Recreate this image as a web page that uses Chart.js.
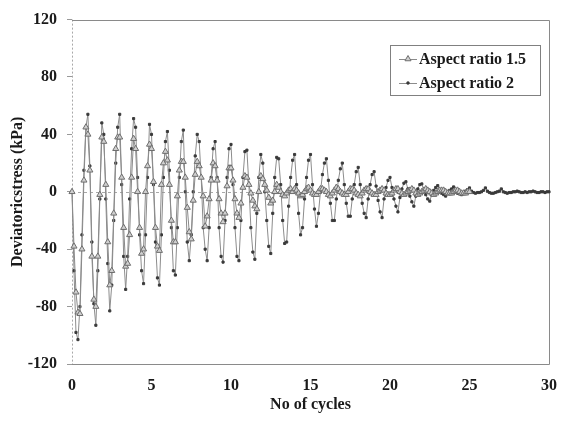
<!DOCTYPE html>
<html>
<head>
<meta charset="utf-8">
<script src="https://cdn.jsdelivr.net/npm/chart.js@4/dist/chart.umd.min.js"></script>
<style>
  html, body { margin: 0; padding: 0; background: #ffffff; }
  #wrap { width: 569px; height: 424px; }
</style>
</head>
<body>
<div id="wrap"><canvas id="c" width="569" height="424"></canvas></div>
<script>
// Readings are taken every 1/8 of a loading cycle.
const samplesPerCycle = 8;

const seriesNames = ['Aspect ratio 1.5', 'Aspect ratio 2'];

// Deviatoric stress (kPa), aspect ratio 1.5 — one row per cycle, cycles 0..24, then the end value
const stressAR15 = [
  0, -38, -70, -84, -85, -40, 8, 45,
  40, 15, -45, -75, -80, -45, -2, 38,
  35, 5, -35, -65, -55, -15, 30, 38,
  38, 10, -25, -52, -50, -30, 10, 37,
  30, 0, -25, -43, -40, 0, 18, 33,
  30, 7, -25, -38, -41, 5, 20, 28,
  22, 5, -20, -35, -35, -3, 15, 21,
  21, 10, -11, -28, -33, -6, 12, 21,
  18, 10, -3, -24, -17, -5, 8, 20,
  18, 8, -5, -15, -21, -15, 4, 16.5,
  16.5, 8, -5, -15, -18, -8, 3, 11,
  10, 5, -1, -6, -10, -12, 0, 11,
  9, 5, 1, -4, -8, -6, 0, 5,
  3, 0, -2, -3, -1, 1, 2, 0,
  2, 1, -1, -3, -2, 0, 2, 3,
  1, -1, -2, -2, 0, 2, 2, 1,
  0, -2, -3, -1, 1, 3, 2, 0,
  -1, -2, -2, 0, 2, 2, 1, -1,
  -2, -3, -1, 1, 2, 2, 0, -1,
  -2, -2, 0, 1, 2, 1, -1, -2,
  -2, -1, 1, 2, 2, 0, -1, -2,
  -1, 0, 1, 2, 1, -1, -2, -1,
  0, 1, 2, 1, 0, -1, -2, -1,
  0, 1, 1, 1, 0, -1, -1, -1,
  0, 1, 1, 0, -1, -1, -1, 0,
  0
];

// Deviatoric stress (kPa), aspect ratio 2 — one row per cycle, cycles 0..29, then the end value
const stressAR2 = [
  0, -55, -98, -103, -80, -30, 15, 45,
  54, 18, -35, -78, -93, -55, -5, 48,
  40, -5, -50, -83, -65, -20, 20, 45,
  54, 5, -45, -68, -45, -5, 30, 51,
  45, 10, -30, -55, -64, -30, 10, 47,
  40, 5, -35, -60, -65, -30, 10, 35,
  42, 15, -25, -55, -58, -25, 10, 35,
  43, 0, -35, -48, -30, 0, 25, 40,
  35, 10, -25, -40, -48, -25, 10, 30,
  35, 10, -25, -45, -49, -20, 10, 30,
  33, 5, -25, -45, -48, -20, 10, 28,
  29, 5, -25, -42, -47, -15, 10, 26,
  20, 0, -20, -38, -43, -15, 10, 24,
  23, 5, -20, -36, -35, -10, 10, 22,
  26, 5, -15, -30, -25, -5, 10, 22,
  26, 5, -12, -24, -15, 0, 12, 20,
  23, 8, -8, -20, -20, -5, 8, 16,
  20, 5, -8, -17, -17, -5, 5, 14,
  17, 5, -8, -15, -18, -5, 5, 12,
  14, 4, -6, -14, -18, -5, 3, 8,
  10, 3, -5, -10, -14, -4, 2, 6,
  7, 2, -3, -7, -10, -3, 2, 5,
  5.5, 1, -2, -5, -6.5, -2, 1, 3,
  4.3, 1, -1, -2, -3, -1, 1, 2,
  3.4, 1, -1, -1.5, -2, -0.5, 0.5, 1.5,
  2.7, 0.5, -0.5, -1, -0.5, -0.5, 0, 1,
  2.7, 0.5, -0.5, -1, -1, -0.5, 0, 0.5,
  2, 0, -0.5, -1, -0.5, -0.5, 0, 0,
  0.5, 0, -0.5, -0.5, 0, -0.5, 0, 0,
  0.5, 0, -0.5, -0.5, 0, 0, -0.5, 0,
  0
];

const xTickValues = [0, 5, 10, 15, 20, 25, 30];
const yTickValues = [-120, -80, -40, 0, 40, 80, 120];

const toPoints = arr => arr.map((v, i) => ({ x: i / samplesPerCycle, y: v }));

const FONT = "'Liberation Serif', 'Times New Roman', serif";
const TEXT = '#1a1a1a';

// Frame, zero line and dashed left axis
const framePlugin = {
  id: 'frame',
  beforeDatasetsDraw(chart) {
    const { ctx, chartArea: a, scales } = chart;
    const y0 = scales.y.getPixelForValue(0);
    ctx.save();
    ctx.lineWidth = 1;
    ctx.strokeStyle = '#a8a8a8';
    ctx.setLineDash([3, 3]);
    ctx.beginPath();
    ctx.moveTo(a.left, Math.round(y0) + 0.5);
    ctx.lineTo(a.right, Math.round(y0) + 0.5);
    ctx.stroke();
    ctx.setLineDash([2, 2]);
    ctx.beginPath();
    ctx.moveTo(Math.round(a.left) + 0.5, a.top);
    ctx.lineTo(Math.round(a.left) + 0.5, a.bottom);
    ctx.stroke();
    ctx.setLineDash([]);
    ctx.strokeStyle = '#8a8a8a';
    ctx.beginPath();
    ctx.moveTo(a.left, Math.round(a.top) + 0.5);
    ctx.lineTo(Math.round(a.right) + 0.5, Math.round(a.top) + 0.5);
    ctx.lineTo(Math.round(a.right) + 0.5, Math.round(a.bottom) + 0.5);
    ctx.lineTo(a.left, Math.round(a.bottom) + 0.5);
    ctx.stroke();
    ctx.restore();
  }
};

// Boxed legend in the upper right of the plot
const boxLegendPlugin = {
  id: 'boxLegend',
  afterDraw(chart) {
    const { ctx } = chart;
    const bx = 390.5, by = 45.5, bw = 150, bh = 50;
    ctx.save();
    ctx.fillStyle = '#ffffff';
    ctx.fillRect(bx, by, bw, bh);
    ctx.strokeStyle = '#808080';
    ctx.lineWidth = 1;
    ctx.strokeRect(bx, by, bw, bh);
    chart.data.datasets.forEach((ds, i) => {
      const cy = 59 + i * 24;
      ctx.strokeStyle = ds.borderColor;
      ctx.lineWidth = ds.borderWidth;
      ctx.beginPath();
      ctx.moveTo(399, cy + 0.5);
      ctx.lineTo(417, cy + 0.5);
      ctx.stroke();
      ctx.fillStyle = ds.pointBackgroundColor;
      ctx.strokeStyle = ds.pointBorderColor;
      ctx.lineWidth = ds.pointBorderWidth;
      Chart.helpers.drawPoint(ctx, {
        pointStyle: ds.pointStyle,
        radius: ds.pointRadius,
        borderWidth: ds.pointBorderWidth
      }, 408, cy);
      ctx.fillStyle = TEXT;
      ctx.font = 'bold 16px ' + FONT;
      ctx.textBaseline = 'middle';
      ctx.textAlign = 'left';
      ctx.fillText(ds.label, 419, cy + 1);
    });
    ctx.restore();
  }
};

new Chart(document.getElementById('c'), {
  type: 'line',
  data: {
    datasets: [
      {
        label: seriesNames[0],
        data: toPoints(stressAR15),
        borderColor: '#8a8a8a',
        borderWidth: 1,
        pointStyle: 'triangle',
        pointRadius: 3.5,
        pointBorderWidth: 1,
        pointBorderColor: '#6e6e6e',
        pointBackgroundColor: '#cfcfcf',
        tension: 0
      },
      {
        label: seriesNames[1],
        data: toPoints(stressAR2),
        borderColor: '#8c8c8c',
        borderWidth: 1,
        pointStyle: 'rect',
        pointRadius: 1.5,
        pointBorderWidth: 1,
        pointBorderColor: '#3a3a3a',
        pointBackgroundColor: '#3a3a3a',
        tension: 0
      }
    ]
  },
  options: {
    responsive: false,
    animation: false,
    devicePixelRatio: 1,
    clip: false,
    layout: { padding: { top: 14, right: 20, left: 8, bottom: 10 } },
    plugins: { legend: { display: false }, tooltip: { enabled: false } },
    scales: {
      x: {
        type: 'linear',
        min: 0, max: 30,
        afterBuildTicks: s => { s.ticks = xTickValues.map(v => ({ value: v })); },
        afterFit: s => { s.height = 50; },
        grid: { display: false, drawTicks: false },
        border: { display: false },
        ticks: { padding: 12, color: TEXT, font: { family: FONT, size: 16, weight: 'bold' }, maxRotation: 0 },
        title: { display: true, text: 'No of cycles', color: TEXT, padding: { top: 2, bottom: 0 }, font: { family: FONT, size: 16, weight: 'bold' } }
      },
      y: {
        min: -120, max: 120,
        afterBuildTicks: s => { s.ticks = yTickValues.map(v => ({ value: v })); },
        afterFit: s => { s.width = 64; },
        grid: { drawOnChartArea: false, drawTicks: true, tickLength: 5, color: '#999999' },
        border: { display: false },
        ticks: { padding: 10, color: TEXT, font: { family: FONT, size: 16, weight: 'bold' } },
        title: { display: true, text: 'Deviatoricstress (kPa)', color: TEXT, padding: { top: 0, bottom: 2 }, font: { family: FONT, size: 16, weight: 'bold' } }
      }
    }
  },
  plugins: [framePlugin, boxLegendPlugin]
});
</script>
</body>
</html>
